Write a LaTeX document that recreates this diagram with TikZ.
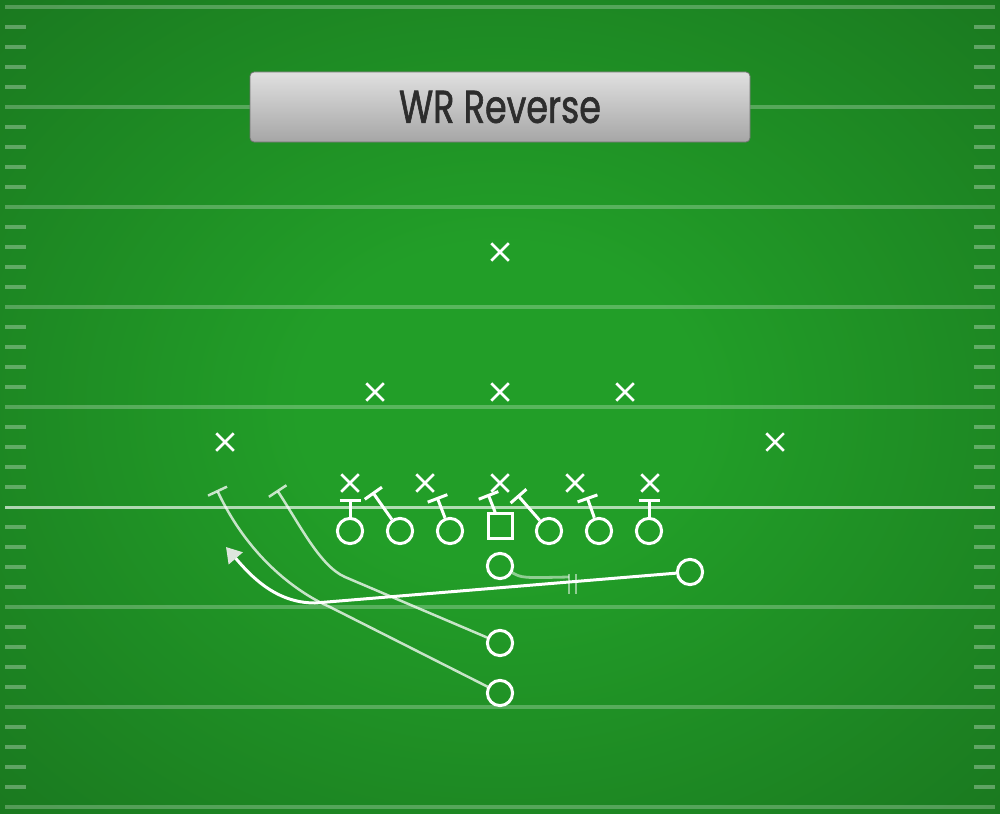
\documentclass[tikz,border=0pt]{standalone}
\usepackage{fontspec}
\usepackage{xcolor}
\usepackage{tikz}
\usetikzlibrary{arrows.meta}
\usetikzlibrary{shapes.misc}

\newfontfamily\titlefont[FakeStretch=0.76, FakeBold=1.3]{Poppins}

\definecolor{fieldin}{RGB}{34,158,40}
\definecolor{fieldout}{RGB}{22,100,27}
\definecolor{titletop}{RGB}{224,224,224}
\definecolor{titlebot}{RGB}{166,166,166}
\definecolor{titletext}{RGB}{45,45,45}
\definecolor{tipgray}{RGB}{222,230,222}

\pgfdeclareradialshading{field}{\pgfpoint{0bp}{0bp}}{color(0bp)=(fieldin); color(10bp)=(fieldin); color(50bp)=(fieldout); color(72bp)=(fieldout)}

\begin{document}
\begin{tikzpicture}[x=0.5pt, y=-0.5pt,
    player/.style={circle, draw=white, line width=1.5pt, minimum size=12.6pt, inner sep=0pt},
    snap/.style={rectangle, draw=white, line width=1.5pt, minimum size=12.3pt, inner sep=0pt},
    defender/.style={cross out, draw=white, line width=1.25pt, minimum size=7.5pt, inner sep=0pt},
    block/.style={draw=white, line width=1.5pt, -{Bar[width=10.5pt]}},
    route/.style={draw=white, draw opacity=0.75, line width=1.25pt, -{Bar[width=10.5pt]}},
    reverse/.style={draw=white, line width=1.5pt, -{Triangle[length=7.5pt, width=9pt, color=tipgray]}},
    handoff/.style={draw=white, draw opacity=0.5, line width=1.4pt},
    yardline/.style={white, opacity=0.25, line width=2pt},
    hashmark/.style={white, opacity=0.3, line width=2pt},
    scrimmage/.style={white, opacity=0.65, line width=1.5pt},
    titlebox/.style={rectangle, rounded corners=2pt, minimum width=250pt, minimum height=35pt,
        top color=titletop, bottom color=titlebot, draw=black!55, line width=0.4pt, text=titletext}]

    % Field
    \useasboundingbox (0,0) rectangle (1000,813);
    \shade[shading=field] (0,0) rectangle (1000,813);

    % Yard lines
    \foreach \y in {7,107,207,307,407,607,707,807}
        \draw[yardline] (5,\y) -- (995,\y);
    \draw[scrimmage] (5,507) -- (995,507);

    % Hash marks
    \foreach \k in {0,...,7}
        \foreach \d in {20,40,60,80} {
            \draw[hashmark] (5,7+100*\k+\d) -- (26,7+100*\k+\d);
            \draw[hashmark] (974,7+100*\k+\d) -- (995,7+100*\k+\d);
        }

    % Title
    \node[titlebox] (title) at (500,107) {\titlefont\fontsize{23}{23}\selectfont WR Reverse};

    % Defense
    \foreach \n/\x/\y in {fs/500/252, lb1/375/392, lb2/500/392, lb3/625/392, cb1/225/442, cb2/775/442,
                          dl1/350/483, dl2/425/483, dl3/500/483, dl4/575/483, dl5/650/483}
        \node[defender] (\n) at (\x,\y) {};

    % Offensive line and blocks
    \foreach \n/\x/\bx/\by in {lt/350/350/499, lg/400/372.5/492, lw/450/437/497,
                               rg/549/517.5/495, rt/599/587/497, te/649/649/499} {
        \node[player] (\n) at (\x,531) {};
        \coordinate (blk\n) at (\bx,\by);
        \draw[block] (\n) -- (blk\n);
    }
    \node[snap] (c) at (500.5,526) {};
    \coordinate (blkc) at (488,494);
    \draw[block] (c) -- (blkc);

    % Backs
    \node[player] (qb) at (500,566) {};
    \node[player] (wr) at (690,572) {};
    \node[player] (hb) at (500,643) {};
    \node[player] (fb) at (500,693) {};

    % Handoff
    \coordinate (hand) at (569,577);
    \draw[handoff] (qb) .. controls (522,578) .. (hand);
    \draw[handoff] (hand) ++(0,-3) -- ++(0,20);
    \draw[handoff] (hand) ++(7,-3) -- ++(0,20);

    % Reverse
    \coordinate (rv) at (315,603);
    \coordinate (rvend) at (226,547);
    \draw[reverse] (wr) -- (rv) .. controls (275,603) and (250,575) .. (rvend);

    % Lead blocks
    \coordinate (hbturn) at (345,577);
    \coordinate (hbend) at (277,490);
    \draw[route] (hb) -- (hbturn) .. controls (320,566) and (300,525) .. (hbend);
    \coordinate (fbturn) at (330,607);
    \coordinate (fbend) at (217,490);
    \draw[route] (fb) -- (fbturn) .. controls (300,594) and (250,560) .. (fbend);
\end{tikzpicture}
\end{document}
